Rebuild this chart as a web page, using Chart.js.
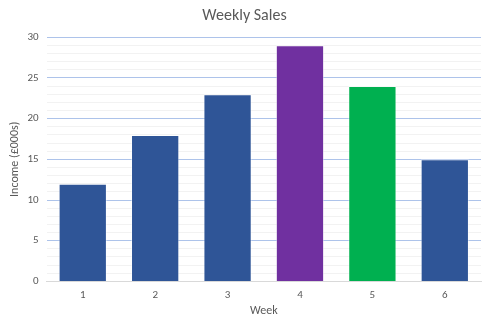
<!DOCTYPE html>
<html>
<head>
<meta charset="utf-8">
<script src="https://cdn.jsdelivr.net/npm/chart.js@4"></script>
<style>
  html, body { margin: 0; padding: 0; background: #ffffff; }
  #wrap { width: 490px; height: 327px; }
</style>
</head>
<body>
<div id="wrap"><canvas id="chart"></canvas></div>
<script>
const weeks = ['1', '2', '3', '4', '5', '6'];
const income = [12, 18, 23, 29, 24, 15];
const barColors = ['#2f5597', '#2f5597', '#2f5597', '#7030a0', '#00b050', '#2f5597'];

const font = "Carlito, Calibri, 'Open Sans', sans-serif";
const grey = '#595959';

new Chart(document.getElementById('chart'), {
  type: 'bar',
  data: {
    labels: weeks,
    datasets: [{
      data: income,
      backgroundColor: barColors,
      borderColor: 'rgba(255,255,255,0.45)',
      borderWidth: 1,
      categoryPercentage: 1,
      barPercentage: 0.667
    }]
  },
  options: {
    responsive: true,
    maintainAspectRatio: false,
    animation: false,
    layout: { padding: { left: 8, right: 9, top: 6, bottom: 9 } },
    plugins: {
      legend: { display: false },
      tooltip: { enabled: false },
      title: {
        display: true,
        text: 'Weekly Sales',
        color: grey,
        font: { family: font, size: 16, weight: 'normal' },
        padding: { top: 0, bottom: 12 }
      }
    },
    scales: {
      x: {
        grid: { display: false, drawTicks: false },
        border: { display: true, color: '#d9d9d9', width: 1 },
        ticks: { color: grey, font: { family: font, size: 11 }, padding: 7 },
        title: {
          display: true,
          text: 'Week',
          color: grey,
          font: { family: font, size: 12 },
          padding: { top: -5, bottom: 0 }
        }
      },
      y: {
        min: 0,
        max: 30,
        ticks: {
          stepSize: 1,
          autoSkip: false,
          color: grey,
          font: { family: font, size: 11 },
          padding: 8,
          callback: (v) => (v % 5 === 0 ? v : '')
        },
        grid: {
          drawTicks: false,
          color: (ctx) => (ctx.tick && ctx.tick.value % 5 === 0 ? '#adc3ea' : '#f2f2f2'),
          lineWidth: 1
        },
        border: { display: false },
        title: {
          display: true,
          text: 'Income (£000s)',
          color: grey,
          font: { family: font, size: 12 },
          padding: { top: 0, bottom: -3 }
        }
      }
    }
  }
});
</script>
</body>
</html>
